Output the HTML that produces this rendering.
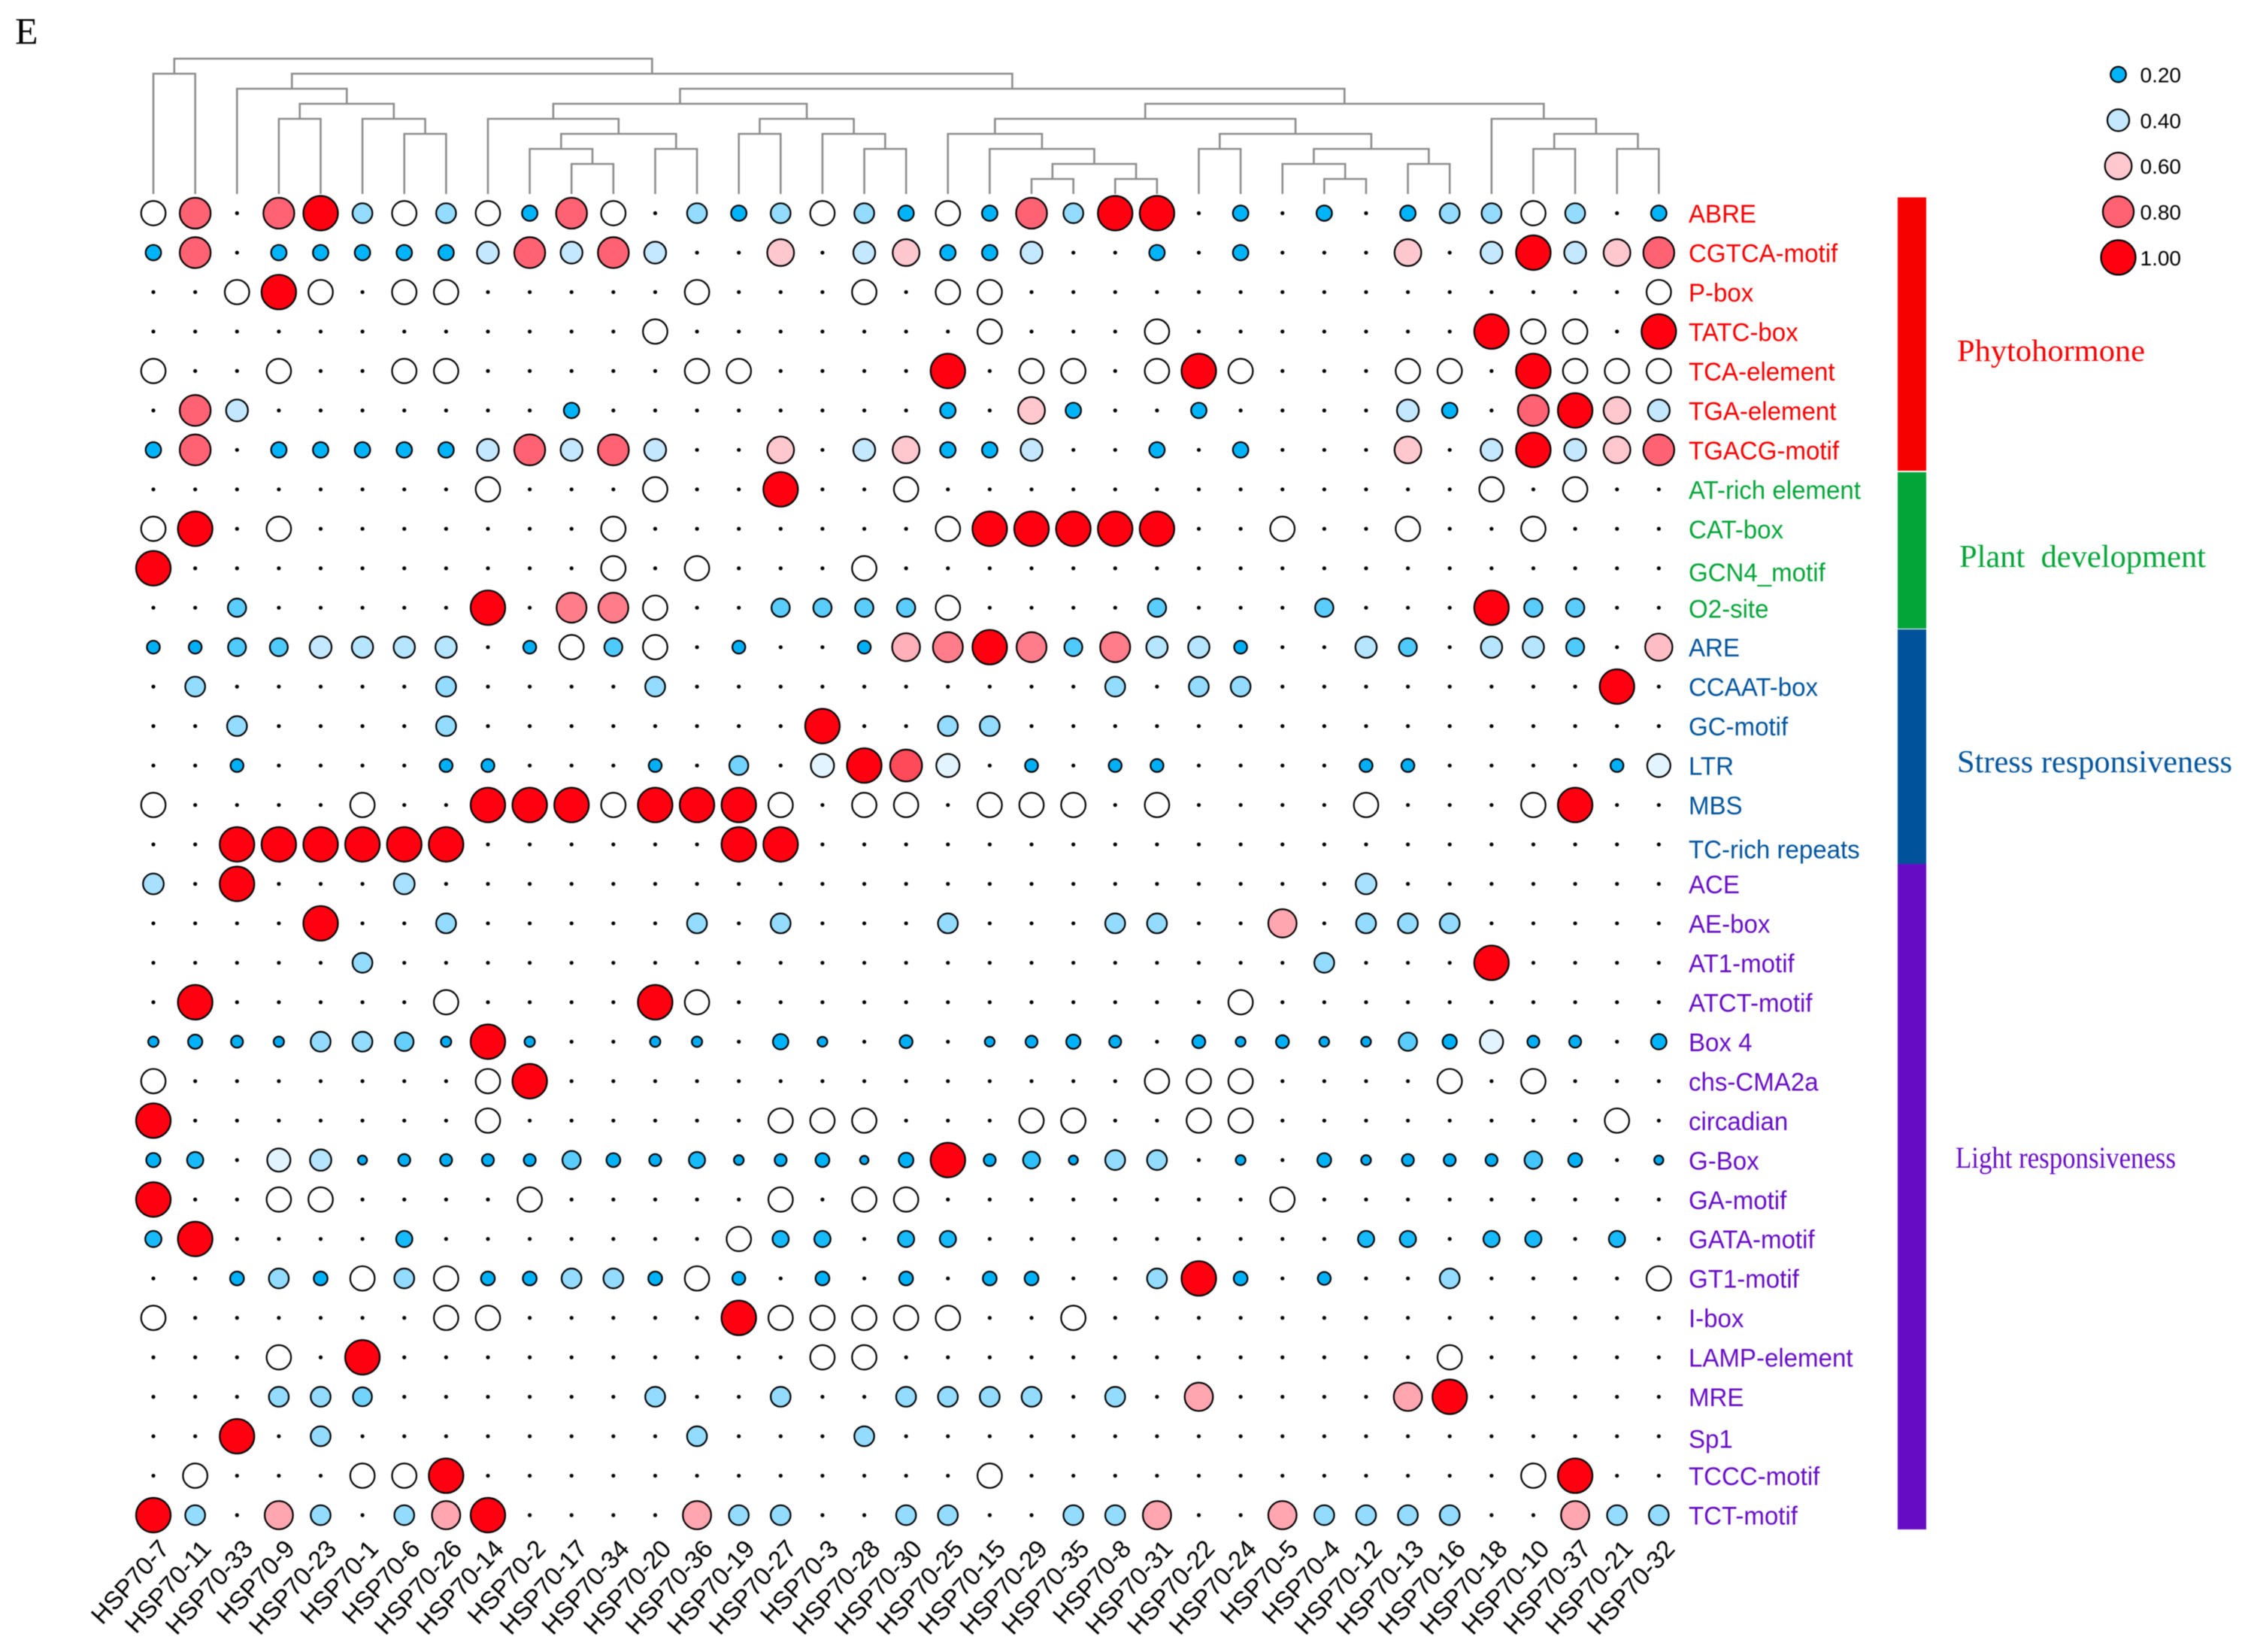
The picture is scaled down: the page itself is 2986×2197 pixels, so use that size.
<!DOCTYPE html>
<html lang="en">
<head>
<meta charset="utf-8">
<title>HSP70 cis-element bubble heatmap</title>
<style>
html,body{margin:0;padding:0;background:#fff;}
body{width:2986px;height:2197px;overflow:hidden;}
svg{display:block;filter:blur(.6px);}
text{font-family:"Liberation Sans",sans-serif;}
.serif{font-family:"Liberation Serif",serif;}
</style>
</head>
<body>
<svg id="chart" xmlns="http://www.w3.org/2000/svg" width="2986" height="2197" viewBox="0 0 2986 2197">
  <rect width="2986" height="2197" fill="#fff"/>
  <text class="serif" x="20" y="58" font-size="50" fill="#000">E</text>
  <g id="dendrogram"></g>
  <g id="cells"></g>
  <g id="colLabels"></g>
  <g id="rowLabels"></g>
  <g id="legend"></g>

  <rect x="2524" y="262.5" width="38" height="363.5" fill="#f70000"/>
  <rect x="2524" y="628" width="38" height="208" fill="#04a538"/>
  <rect x="2524" y="837" width="38" height="312" fill="#00539b"/>
  <rect x="2524" y="1149" width="38" height="885" fill="#660cc4"/>

  <text class="serif" x="2603" y="480" font-size="41" textLength="250" lengthAdjust="spacingAndGlyphs" fill="#f70000">Phytohormone</text>
  <text class="serif" x="2606" y="754" font-size="42" textLength="328" lengthAdjust="spacingAndGlyphs" fill="#04a538" xml:space="preserve" style="white-space:pre">Plant  development</text>
  <text class="serif" x="2603" y="1027" font-size="42" textLength="366" lengthAdjust="spacingAndGlyphs" fill="#00539b">Stress responsiveness</text>
  <text class="serif" x="2601" y="1553" font-size="40" textLength="293" lengthAdjust="spacingAndGlyphs" fill="#660cc4">Light responsiveness</text>
</svg>

<script>
const columnNames = ["HSP70-7","HSP70-11","HSP70-33","HSP70-9","HSP70-23","HSP70-1","HSP70-6","HSP70-26","HSP70-14","HSP70-2","HSP70-17","HSP70-34","HSP70-20","HSP70-36","HSP70-19","HSP70-27","HSP70-3","HSP70-28","HSP70-30","HSP70-25","HSP70-15","HSP70-29","HSP70-35","HSP70-8","HSP70-31","HSP70-22","HSP70-24","HSP70-5","HSP70-4","HSP70-12","HSP70-13","HSP70-16","HSP70-18","HSP70-10","HSP70-37","HSP70-21","HSP70-32"];

const rowNames = ["ABRE","CGTCA-motif","P-box","TATC-box","TCA-element","TGA-element","TGACG-motif","AT-rich element","CAT-box","GCN4_motif","O2-site","ARE","CCAAT-box","GC-motif","LTR","MBS","TC-rich repeats","ACE","AE-box","AT1-motif","ATCT-motif","Box 4","chs-CMA2a","circadian","G-Box","GA-motif","GATA-motif","GT1-motif","I-box","LAMP-element","MRE","Sp1","TCCC-motif","TCT-motif"];

const rowGroups = ["hormone","hormone","hormone","hormone","hormone","hormone","hormone","development","development","development","development","stress","stress","stress","stress","stress","stress","light","light","light","light","light","light","light","light","light","light","light","light","light","light","light","light","light"];

const legendValues = [0.2,0.4,0.6,0.8,1];
const legendLabels = ["0.20","0.40","0.60","0.80","1.00"];

const cellValues = [
[.5,.8,0,.8,1,.33,.5,.33,.5,.2, .8,.5,0,.33,.2,.33,.5,.33,.2,.5, .2,.8,.33,1,1,0,.2,0,.2,0, .2,.33,.33,.5,.33,0,.2],
[.2,.8,0,.2,.2,.2,.2,.2,.4,.8, .4,.8,.4,0,0,.6,0,.4,.6,.2, .2,.4,0,0,.2,0,.2,0,0,0, .6,0,.4,1,.4,.6,.8],
[0,0,.5,1,.5,0,.5,.5,0,0, 0,0,0,.5,0,0,0,.5,0,.5, .5,0,0,0,0,0,0,0,0,0, 0,0,0,0,0,0,.5],
[0,0,0,0,0,0,0,0,0,0, 0,0,.5,0,0,0,0,0,0,0, .5,0,0,0,.5,0,0,0,0,0, 0,0,1,.5,.5,0,1],
[.5,0,0,.5,0,0,.5,.5,0,0, 0,0,0,.5,.5,0,0,0,0,1, 0,.5,.5,0,.5,1,.5,0,0,0, .5,.5,0,1,.5,.5,.5],
[0,.8,.4,0,0,0,0,0,0,0, .2,0,0,0,0,0,0,0,0,.2, 0,.6,.2,0,0,.2,0,0,0,0, .4,.2,0,.8,1,.6,.4],
[.2,.8,0,.2,.2,.2,.2,.2,.4,.8, .4,.8,.4,0,0,.6,0,.4,.6,.2, .2,.4,0,0,.2,0,.2,0,0,0, .6,0,.4,1,.4,.6,.8],
[0,0,0,0,0,0,0,0,.5,0, 0,0,.5,0,0,1,0,0,.5,0, 0,0,0,0,0,0,0,0,0,0, 0,0,.5,0,.5,0,0],
[.5,1,0,.5,0,0,0,0,0,0, 0,.5,0,0,0,0,0,0,0,.5, 1,1,1,1,1,0,0,.5,0,0, .5,0,0,.5,0,0,0],
[1,0,0,0,0,0,0,0,0,0, 0,.5,0,.5,0,0,0,.5,0,0, 0,0,0,0,0,0,0,0,0,0, 0,0,0,0,0,0,0],
[0,0,.28,0,0,0,0,0,1,0, .75,.75,.5,0,0,.28,.28,.28,.28,.5, 0,0,0,0,.28,0,0,0,.28,0, 0,0,1,.28,.28,0,0],
[.14,.14,.27,.27,.4,.38,.38,.38,0,.14, .5,.27,.5,0,.14,0,0,.14,.65,.75, 1,.75,.27,.75,.38,.38,.14,0,0,.38, .27,0,.38,.38,.27,0,.62],
[0,.33,0,0,0,0,0,.33,0,0, 0,0,.33,0,0,0,0,0,0,0, 0,0,0,.33,0,.33,.33,0,0,0, 0,0,0,0,0,1,0],
[0,0,.33,0,0,0,0,.33,0,0, 0,0,0,0,0,0,1,0,0,.33, .33,0,0,0,0,0,0,0,0,0, 0,0,0,0,0,0,0],
[0,0,.14,0,0,0,0,.14,.14,0, 0,0,.14,0,.3,0,.45,1,.85,.45, 0,.14,0,.14,.14,0,0,0,0,.14, .14,0,0,0,0,.14,.45],
[.5,0,0,0,0,.5,0,0,1,1, 1,.5,1,1,1,.5,0,.5,.5,0, .5,.5,.5,0,.5,0,0,0,0,.5, 0,0,0,.5,1,0,0],
[0,0,1,1,1,1,1,1,0,0, 0,0,0,0,1,1,0,0,0,0, 0,0,0,0,0,0,0,0,0,0, 0,0,0,0,0,0,0],
[.36,0,1,0,0,0,.36,0,0,0, 0,0,0,0,0,0,0,0,0,0, 0,0,0,0,0,0,0,0,0,.36, 0,0,0,0,0,0,0],
[0,0,0,0,1,0,0,.33,0,0, 0,0,0,.33,0,.33,0,0,0,.33, 0,0,0,.33,.33,0,0,.67,0,.33, .33,.33,0,0,0,0,0],
[0,0,0,0,0,.33,0,0,0,0, 0,0,0,0,0,0,0,0,0,0, 0,0,0,0,0,0,0,0,.33,0, 0,0,1,0,0,0,0],
[0,1,0,0,0,0,0,.5,0,0, 0,0,1,.5,0,0,0,0,0,0, 0,0,0,0,0,0,.5,0,0,0, 0,0,0,0,0,0,0],
[.09,.17,.12,.09,.33,.33,.29,.09,1,.09, 0,0,.09,.09,0,.2,.08,0,.14,0, .08,.12,.17,.12,0,.14,.08,.14,.08,.08, .28,.17,.45,.12,.12,0,.2],
[.5,0,0,0,0,0,0,0,.5,1, 0,0,0,0,0,0,0,0,0,0, 0,0,0,0,.5,.5,.5,0,0,0, 0,.5,0,.5,0,0,0],
[1,0,0,0,0,0,0,0,.5,0, 0,0,0,0,0,.5,.5,.5,0,0, 0,.5,.5,0,0,.5,.5,0,0,0, 0,0,0,0,0,.5,0],
[.17,.22,0,.45,.38,.07,.12,.12,.12,.12, .28,.16,.12,.22,.08,.12,.16,.06,.18,1, .12,.24,.07,.33,.33,0,.08,0,.16,.08, .12,.12,.12,.26,.16,0,.07],
[1,0,0,.5,.5,0,0,0,0,.5, 0,0,0,0,0,.5,0,.5,.5,0, 0,0,0,0,0,0,0,.5,0,0, 0,0,0,0,0,0,0],
[.22,1,0,0,0,0,.22,0,0,0, 0,0,0,0,.5,.22,.22,0,.22,.22, 0,0,0,0,0,0,0,0,0,.22, .22,0,.22,.22,0,.22,0],
[0,0,.16,.33,.16,.5,.33,.5,.16,.16, .33,.33,.16,.5,.14,0,.16,0,.16,0, .16,.16,0,0,.33,1,.16,0,.14,0, 0,.33,0,0,0,0,.5],
[.5,0,0,0,0,0,0,.5,.5,0, 0,0,0,0,1,.5,.5,.5,.5,.5, 0,0,.5,0,0,0,0,0,0,0, 0,0,0,0,0,0,0],
[0,0,0,.5,0,1,0,0,0,0, 0,0,0,0,0,0,.5,.5,0,0, 0,0,0,0,0,0,0,0,0,0, 0,.5,0,0,0,0,0],
[0,0,0,.33,.33,.3,0,0,0,0, 0,0,.33,0,0,.33,0,0,.33,.33, .33,.33,0,.33,0,.67,0,0,0,0, .67,1,0,0,0,0,0],
[0,0,1,0,.33,0,0,0,0,0, 0,0,0,.33,0,0,0,.33,0,0, 0,0,0,0,0,0,0,0,0,0, 0,0,0,0,0,0,0],
[0,.5,0,0,0,.5,.5,1,0,0, 0,0,0,0,0,0,0,0,0,0, .5,0,0,0,0,0,0,0,0,0, 0,0,0,.5,1,0,0],
[1,.33,0,.67,.33,0,.33,.67,1,0, 0,0,0,.67,.33,.33,0,0,.33,.33, 0,0,.33,.33,.67,0,0,.67,.33,.33, .33,.33,0,0,.67,.33,.33]
];

// Dendrogram merges: [left child, right child, merge level]; a plain number is a column index.
const clusterTree = [
  [0,1,1],
  [
    [2,[[3,4,4],[5,[6,7,5],4],3],2],
    [
      [
        [8,[[9,[10,11,7],6],[12,13,6],5],4],
        [[14,15,5],[16,[17,18,6],5],4],
        3],
      [
        [
          [19,[20,[[21,22,8],[23,24,8],7],6],5],
          [[25,26,6],[[27,[28,29,8],7],[30,31,7],6],5],
          4],
        [32,[[33,34,6],[35,36,6],5],4],
        3],
      2],
    1],
  0];

const NS = "http://www.w3.org/2000/svg";
const plotLeft = 204, colStep = 55.62, plotTop = 283.5, rowStep = 52.47;
const maxRadius = 23, dotRadius = 2.6;
const treeTop = 78, treeStep = 20, treeBottom = 258;

function xScale(col){ return plotLeft + col * colStep; }
function yScale(row){ return plotTop + row * rowStep; }
function sizeScale(v){ return maxRadius * Math.sqrt(v); }
function levelY(level){ return treeTop + level * treeStep; }

function colorScale(v){
  const stops = [[0,0,168,240],[.2,0,180,250],[.33,147,220,255],[.4,196,232,255],[.5,255,255,255],[.6,255,200,207],[.67,255,166,176],[.8,255,99,115],[1,255,0,16]];
  for(let i=1;i<stops.length;i++){
    if(v<=stops[i][0]){
      const a=stops[i-1], b=stops[i], t=(v-a[0])/(b[0]-a[0]);
      return "rgb("+[1,2,3].map(k=>Math.round(a[k]+(b[k]-a[k])*t)).join(",")+")";
    }
  }
  return "rgb(255,0,16)";
}

const groupColors = {hormone:"#f70000",development:"#04a538",stress:"#00539b",light:"#660cc4"};
const labelNudge = {"GCN4_motif":5,"TC-rich repeats":6,"Sp1":3,"O2-site":1};

/* cells */
const cellsG = document.getElementById("cells");
cellValues.forEach((rowVals,r)=>{
  rowVals.forEach((v,c)=>{
    const dot = document.createElementNS(NS,"circle");
    dot.setAttribute("cx",xScale(c));
    dot.setAttribute("cy",yScale(r));
    if(v>0){
      dot.setAttribute("r",sizeScale(v));
      dot.setAttribute("fill",colorScale(v));
      dot.setAttribute("stroke","#000");
      dot.setAttribute("stroke-width","2.2");
    }else{
      dot.setAttribute("r",dotRadius);
      dot.setAttribute("fill","#000");
    }
    
    
    cellsG.appendChild(dot);
  });
});

/* row labels */
const rowG = document.getElementById("rowLabels");
rowNames.forEach((name,r)=>{
  const t = document.createElementNS(NS,"text");
  const ly = yScale(r)+12.5+(labelNudge[name]||0);
  t.setAttribute("x",0);
  t.setAttribute("y",0);
  t.setAttribute("transform","translate(2246 "+ly+") scale(.972 1)");
  t.setAttribute("font-size","34");
  t.setAttribute("fill",groupColors[rowGroups[r]]);
  t.textContent = name;
  
  
  rowG.appendChild(t);
});

/* column labels */
const colG = document.getElementById("colLabels");
columnNames.forEach((name,c)=>{
  const t = document.createElementNS(NS,"text");
  const bx = xScale(c)+23, by = 2061;
  t.setAttribute("x",bx);
  t.setAttribute("y",by);
  t.setAttribute("font-size","33.5");
  t.setAttribute("text-anchor","end");
  t.setAttribute("fill","#000");
  t.setAttribute("transform","rotate(-48 "+bx+" "+by+")");
  t.textContent = name;
  
  
  colG.appendChild(t);
});

/* dendrogram */
const treeG = document.getElementById("dendrogram");
function addBranch(points){
  const p = document.createElementNS(NS,"polyline");
  p.setAttribute("points",points.map(q=>q.join(",")).join(" "));
  p.setAttribute("fill","none");
  p.setAttribute("stroke","#8c8c8c");
  p.setAttribute("stroke-width","2.6");
  
  
  treeG.appendChild(p);
}
function drawNode(node){
  if(typeof node === "number") return {x:xScale(node), y:treeBottom};
  const a = drawNode(node[0]), b = drawNode(node[1]);
  const y = levelY(node[2]);
  addBranch([[a.x,a.y],[a.x,y],[b.x,y],[b.x,b.y]]);
  return {x:(a.x+b.x)/2, y:y};
}
drawNode(clusterTree);

/* legend */
const legendG = document.getElementById("legend");
legendValues.forEach((v,i)=>{
  const cy = 99 + i*60.85;
  const c = document.createElementNS(NS,"circle");
  c.setAttribute("cx",2817.5);
  c.setAttribute("cy",cy);
  c.setAttribute("r",sizeScale(v));
  c.setAttribute("fill",colorScale(v));
  c.setAttribute("stroke","#000");
  c.setAttribute("stroke-width","2.2");
  
  
  legendG.appendChild(c);
  const t = document.createElementNS(NS,"text");
  t.setAttribute("x",2901);
  t.setAttribute("y",cy+10.5);
  t.setAttribute("font-size","28");
  t.setAttribute("text-anchor","end");
  t.setAttribute("fill","#000");
  t.textContent = legendLabels[i];
  
  
  legendG.appendChild(t);
});
</script>
</body>
</html>
